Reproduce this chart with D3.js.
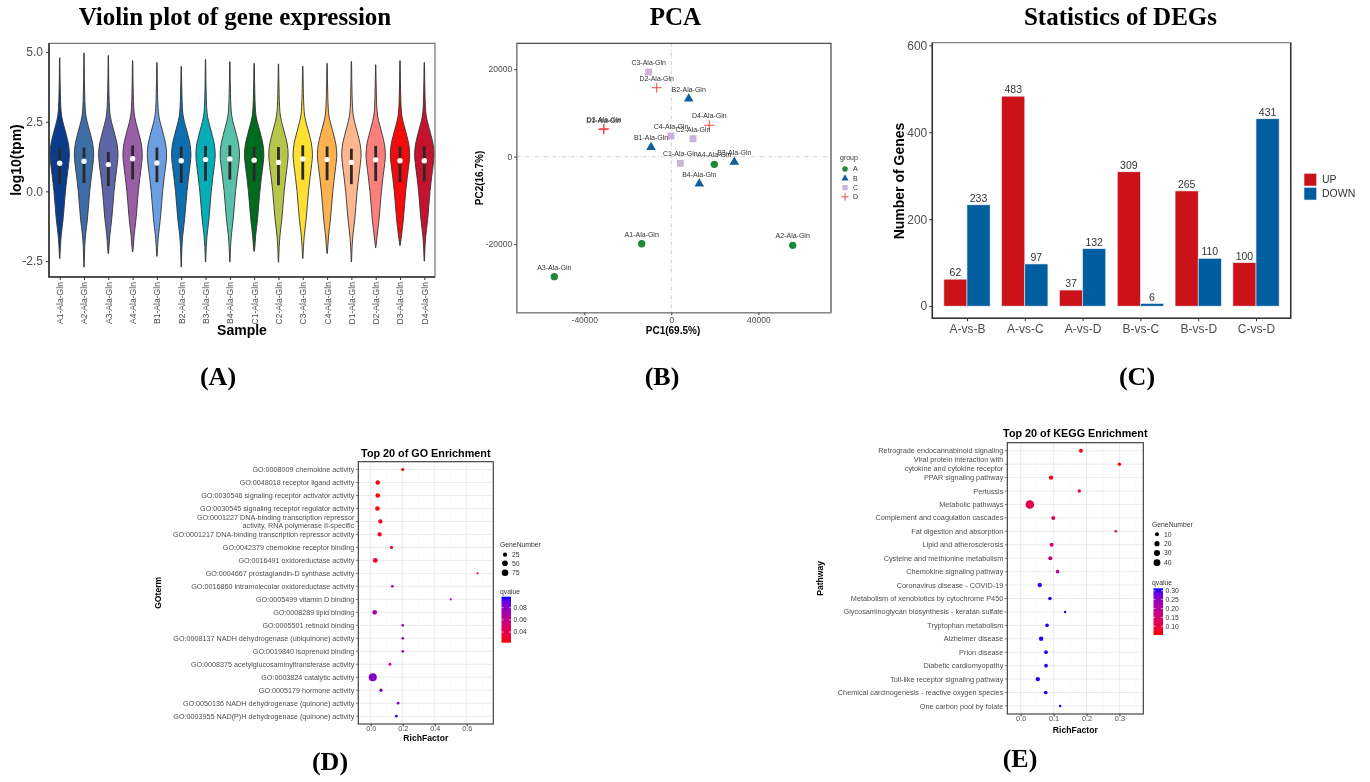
<!DOCTYPE html>
<html>
<head>
<meta charset="utf-8">
<script src="https://cdn.jsdelivr.net/npm/d3@7"></script>
<style>
	body { margin: 0; background: #fff; }
	svg { display: block; will-change: transform; }
	text { font-family: "Liberation Sans", Arial, sans-serif; -webkit-font-smoothing: antialiased; }
</style>
</head>
<body>
<div id="figure"></div>
<script>
//panel A: violin plot data
var samples = ["A1-Ala-Gln","A2-Ala-Gln","A3-Ala-Gln","A4-Ala-Gln","B1-Ala-Gln","B2-Ala-Gln","B3-Ala-Gln","B4-Ala-Gln",
			   "C1-Ala-Gln","C2-Ala-Gln","C3-Ala-Gln","C4-Ala-Gln","D1-Ala-Gln","D2-Ala-Gln","D3-Ala-Gln","D4-Ala-Gln"];
var sampleMin = [-2.41,-2.71,-2.23,-2.17,-2.33,-2.71,-2.53,-2.53,-2.15,-2.54,-2.41,-2.23,-2.53,-2.02,-1.94,-2.5];
var sampleMax = [4.79,4.96,4.87,4.69,4.62,4.48,4.73,4.65,4.59,4.57,4.49,4.59,4.66,4.54,4.69,4.62];
var sampleQ1 = [0.25,0.3,0.19,0.43,0.33,0.3,0.38,0.42,0.35,0.22,0.42,0.4,0.26,0.37,0.33,0.36];
var sampleMedian = [1.01,1.08,0.96,1.17,1.02,1.1,1.14,1.16,1.12,1.04,1.16,1.14,1.04,1.13,1.1,1.1];
var sampleQ3 = [1.57,1.57,1.41,1.65,1.57,1.61,1.63,1.65,1.59,1.59,1.65,1.61,1.53,1.63,1.61,1.62];
//shared density outline (log10 level, relative half width)
var densityLevels = [-2.5,-2.0,-1.6,-1.3,-1.0,-0.5,0.0,0.5,1.0,1.3,1.7,2.0,2.2,2.5,2.7,3.0,3.5,4.0,4.5];
var densityWidths = [0.03,0.07,0.15,0.25,0.35,0.47,0.59,0.75,0.93,1.0,0.9,0.7,0.55,0.32,0.2,0.12,0.07,0.04,0.025];
var violinTicks = [-2.5, 0, 2.5, 5];

//panel B: PCA data
var pcaSamples = samples.slice();
var pcaGroups = ["A","A","A","A","B","B","B","B","C","C","C","C","D","D","D","D"];
var pc1Values = [-13610,55820,-53790,19770,-9330,8000,28970,12870,4140,9980,-10390,-140,-31200,-6710,-30900,17470];
var pc2Values = [-19890,-20250,-27430,-1740,2150,13260,-1210,-6170,-1510,4110,19360,4730,6200,15770,6400,7180];
var pcaGroupNames = ["A","B","C","D"];
var pcaXTicks = [-40000, 0, 40000];
var pcaYTicks = [-20000, 0, 20000];

//panel C: DEG counts
var comparisons = ["A-vs-B","A-vs-C","A-vs-D","B-vs-C","B-vs-D","C-vs-D"];
var upCounts = [62,483,37,309,265,100];
var downCounts = [233,97,132,6,110,431];
var degTicks = [0, 200, 400, 600];

//panel D: GO enrichment
var goTerms = ["GO:0008009 chemokine activity",
			   "GO:0048018 receptor ligand activity",
			   "GO:0030546 signaling receptor activator activity",
			   "GO:0030545 signaling receptor regulator activity",
			   "GO:0001227 DNA-binding transcription repressor\nactivity, RNA polymerase II-specific",
			   "GO:0001217 DNA-binding transcription repressor activity",
			   "GO:0042379 chemokine receptor binding",
			   "GO:0016491 oxidoreductase activity",
			   "GO:0004667 prostaglandin-D synthase activity",
			   "GO:0016860 intramolecular oxidoreductase activity",
			   "GO:0005499 vitamin D binding",
			   "GO:0008289 lipid binding",
			   "GO:0005501 retinoid binding",
			   "GO:0008137 NADH dehydrogenase (ubiquinone) activity",
			   "GO:0019840 isoprenoid binding",
			   "GO:0008375 acetylglucosaminyltransferase activity",
			   "GO:0003824 catalytic activity",
			   "GO:0005179 hormone activity",
			   "GO:0050136 NADH dehydrogenase (quinone) activity",
			   "GO:0003955 NAD(P)H dehydrogenase (quinone) activity"];
var goRichFactor = [0.2,0.044,0.044,0.042,0.06,0.056,0.13,0.029,0.667,0.135,0.5,0.025,0.2,0.2,0.2,0.12,0.013,0.064,0.171,0.16];
var goGeneNumber = [10,28,28,29,24,24,9,34,2,7,2,30,6,6,6,7,120,11,6,6];
var goQvalue = [0.0225,0.024,0.024,0.024,0.026,0.026,0.028,0.034,0.052,0.066,0.068,0.072,0.07,0.07,0.07,0.066,0.082,0.08,0.085,0.096];
var goXTicks = [0, 0.2, 0.4, 0.6];
var goSizeLegend = [25, 50, 75];
var goQTicks = [0.04, 0.06, 0.08];

//panel E: KEGG enrichment
var keggPathways = ["Retrograde endocannabinoid signaling",
					"Viral protein interaction with\ncytokine and cytokine receptor",
					"PPAR signaling pathway",
					"Pertussis",
					"Metabolic pathways",
					"Complement and coagulation cascades",
					"Fat digestion and absorption",
					"Lipid and atherosclerosis",
					"Cysteine and methionine metabolism",
					"Chemokine signaling pathway",
					"Coronavirus disease - COVID-19",
					"Metabolism of xenobiotics by cytochrome P450",
					"Glycosaminoglycan biosynthesis - keratan sulfate",
					"Tryptophan metabolism",
					"Alzheimer disease",
					"Prion disease",
					"Diabetic cardiomyopathy",
					"Toll-like receptor signaling pathway",
					"Chemical carcinogenesis - reactive oxygen species",
					"One carbon pool by folate"];
var keggRichFactor = [0.183,0.3,0.092,0.178,0.028,0.099,0.289,0.094,0.09,0.112,0.058,0.089,0.135,0.08,0.062,0.077,0.077,0.052,0.076,0.12];
var keggGeneNumber = [10,6,13,6,70,10,2,10,10,7,13,7,2,8,13,8,8,13,8,2];
var keggQvalue = [0.052,0.051,0.075,0.08,0.11,0.13,0.13,0.15,0.15,0.19,0.3,0.31,0.31,0.31,0.31,0.31,0.31,0.31,0.31,0.3135];
var keggXTicks = [0, 0.1, 0.2, 0.3];
var keggSizeLegend = [10, 20, 30, 40];
var keggQTicks = [0.10, 0.15, 0.20, 0.25, 0.30];

var violinPalette = ["#0B3C8C","#3E6EA8","#5F66A8","#9A5EA6","#6A9EE0","#0E6FB0","#06ADB6","#58C1A8",
					 "#006B1F","#B7C64A","#FDE032","#FCB24E","#FDB68D","#FB7F7A","#F40B0B","#C4122F"];
var groupColors = {A: "#1B8A36", B: "#0F5EA0", C: "#C9B4D8", D: "#EF4A4C"};
var serif = "'Liberation Serif','Times New Roman',serif";

function init(){
	var svg = d3.select("#figure").append("svg")
				.attr("width", 1370)
				.attr("height", 782)
				.style("background", "#fff");

	violinPlot(svg);
	pcaPlot(svg);
	degPlot(svg);

	enrichmentPlot(svg, {
		title: "Top 20 of GO Enrichment", yTitle: "GOterm", yTitleX: 161,
		terms: goTerms, rich: goRichFactor, genes: goGeneNumber, q: goQvalue,
		left: 358.3, right: 493.3, top: 461.7, bottom: 724,
		xDomain: [-0.0775, 0.766], xTicks: goXTicks, xFormat: d3.format(".1f"),
		sizeMax: 125, rMax: 4.1, sizeLegend: goSizeLegend,
		qDomain: [0.0225, 0.098], qTicks: goQTicks, qFormat: d3.format(".2f"),
		fontSize: 7.2, lineGap: 8, titleY: 456.5, tickY: 730.5, xTitleY: 741,
		legendX: 500, sizeTitleY: 547, sizeItemY: [554.7, 563.3, 572.7],
		qTitleY: 594, barTop: 596.7, barBottom: 642.7
	});

	enrichmentPlot(svg, {
		title: "Top 20 of KEGG Enrichment", yTitle: "Pathway", yTitleX: 823,
		terms: keggPathways, rich: keggRichFactor, genes: keggGeneNumber, q: keggQvalue,
		left: 1007.3, right: 1143.3, top: 442.7, bottom: 714,
		xDomain: [-0.0407, 0.3726], xTicks: keggXTicks, xFormat: d3.format(".1f"),
		sizeMax: 70, rMax: 4.3, sizeLegend: keggSizeLegend,
		qDomain: [0.051, 0.3135], qTicks: keggQTicks, qFormat: d3.format(".2f"),
		fontSize: 7.3, lineGap: 8.6, titleY: 437, tickY: 720.5, xTitleY: 732.5,
		legendX: 1152, sizeTitleY: 527, sizeItemY: [534.3, 543.7, 553, 562.7],
		qTitleY: 585, barTop: 588.3, barBottom: 635
	});

	//panel letters
	var letters = [["(A)", 218, 385], ["(B)", 662, 385], ["(C)", 1137, 385], ["(D)", 330, 770], ["(E)", 1020, 767]];
	svg.selectAll("text.letter").data(letters).enter()
		.append("text")
		.attr("class", "letter")
		.attr("x", d => d[1])
		.attr("y", d => d[2])
		.attr("text-anchor", "middle")
		.style("font-family", serif)
		.style("font-weight", "bold")
		.style("font-size", "26px")
		.attr("fill", "#000")
		.text(d => d[0]);
}

//style the ticks of a d3 axis like the ggplot output
function styleAxis(g, size){
	g.select(".domain").remove();
	g.selectAll(".tick line").attr("stroke", "#333");
	g.selectAll(".tick text")
	 .attr("fill", "#4d4d4d")
	 .style("font-family", "'Liberation Sans', Arial, sans-serif")
	 .style("font-size", size + "px");
}

function violinPlot(svg){
	var left = 49, right = 435, top = 43.3, bottom = 277;
	var halfWidth = 9.7;

	var x = d3.scalePoint().domain(samples).range([left, right]).padding(0.44);
	var y = d3.scaleLinear().domain([-3.07, 5.31]).range([bottom, top]);

	svg.append("text")
		.attr("x", 235)
		.attr("y", 25)
		.attr("text-anchor", "middle")
		.style("font-family", serif)
		.style("font-weight", "bold")
		.style("font-size", "25px")
		.text("Violin plot of gene expression");

	var area = d3.area()
				 .curve(d3.curveMonotoneY)
				 .y(d => y(d.level))
				 .x0(d => d.cx - d.w * halfWidth)
				 .x1(d => d.cx + d.w * halfWidth);

	var g = svg.append("g");
	samples.forEach(function(s, i){
		var cx = x(s);
		var pts = [{level: sampleMin[i], w: 0.015, cx: cx}];
		densityLevels.forEach(function(lv, j){
			if (lv > sampleMin[i] + 0.08 && lv < sampleMax[i] - 0.08) {
				pts.push({level: lv, w: densityWidths[j], cx: cx});
			}
		});
		pts.push({level: sampleMax[i], w: 0.015, cx: cx});

		g.append("path")
		 .attr("d", area(pts))
		 .attr("fill", violinPalette[i])
		 .attr("stroke", "#333")
		 .attr("stroke-width", 0.9);

		//inner box
		g.append("rect")
		 .attr("x", cx - 1.4)
		 .attr("width", 2.8)
		 .attr("y", y(sampleQ3[i]))
		 .attr("height", y(sampleQ1[i]) - y(sampleQ3[i]))
		 .attr("fill", "#2a2a2a");

		g.append("circle")
		 .attr("cx", cx)
		 .attr("cy", y(sampleMedian[i]))
		 .attr("r", 2.7)
		 .attr("fill", "#fff");
	});

	//frame
	svg.append("rect")
		.attr("x", left).attr("y", top)
		.attr("width", right - left).attr("height", bottom - top)
		.attr("fill", "none").attr("stroke", "#555").attr("stroke-width", 1);
	svg.append("path")
		.attr("d", "M" + left + "," + top + "V" + bottom + "H" + right)
		.attr("fill", "none").attr("stroke", "#333").attr("stroke-width", 1.6);

	var yAxis = svg.append("g")
				   .attr("transform", "translate(" + left + ",0)")
				   .call(d3.axisLeft(y).tickValues(violinTicks).tickSize(3).tickPadding(3).tickFormat(d => d.toFixed(1)));
	styleAxis(yAxis, 12);

	var xAxis = svg.append("g")
				   .attr("transform", "translate(0," + bottom + ")")
				   .call(d3.axisBottom(x).tickSize(3));
	styleAxis(xAxis, 8.6);
	xAxis.selectAll(".tick text")
		 .attr("transform", "rotate(-90)")
		 .attr("x", -5)
		 .attr("y", 0)
		 .attr("dy", "0.34em")
		 .style("text-anchor", "end");

	svg.append("text")
		.attr("transform", "translate(21,160) rotate(-90)")
		.attr("text-anchor", "middle")
		.style("font-weight", "bold")
		.style("font-size", "14px")
		.text("log10(tpm)");

	svg.append("text")
		.attr("x", 242)
		.attr("y", 335)
		.attr("text-anchor", "middle")
		.style("font-weight", "bold")
		.style("font-size", "14px")
		.text("Sample");
}

function pcaPlot(svg){
	var left = 516.7, right = 831, top = 43.3, bottom = 312.7;

	var x = d3.scaleLinear().domain([-71080, 73425]).range([left, right]);
	var y = d3.scaleLinear().domain([-35657, 25920]).range([bottom, top]);

	svg.append("text")
		.attr("x", 675.5)
		.attr("y", 25)
		.attr("text-anchor", "middle")
		.style("font-family", serif)
		.style("font-weight", "bold")
		.style("font-size", "25px")
		.text("PCA");

	//zero reference lines
	svg.append("line")
		.attr("x1", x(0)).attr("x2", x(0)).attr("y1", top).attr("y2", bottom)
		.attr("stroke", "#c4c4c4").attr("stroke-width", 0.8).attr("stroke-dasharray", "4,2,1,2");
	svg.append("line")
		.attr("x1", left).attr("x2", right).attr("y1", y(0)).attr("y2", y(0))
		.attr("stroke", "#c4c4c4").attr("stroke-width", 0.8).attr("stroke-dasharray", "4,2,1,2");

	var points = pcaSamples.map(function(s, i){
		return {name: s, group: pcaGroups[i], pc1: pc1Values[i], pc2: pc2Values[i]};
	});

	svg.selectAll("path.pca").data(points).enter()
		.append("path")
		.attr("class", "pca")
		.attr("transform", d => "translate(" + x(d.pc1) + "," + y(d.pc2) + ")")
		.attr("d", d => groupSymbol(d.group))
		.attr("fill", d => d.group == "D" ? "none" : groupColors[d.group])
		.attr("stroke", d => d.group == "D" ? groupColors[d.group] : "none")
		.attr("stroke-width", 1);

	svg.selectAll("text.pca").data(points).enter()
		.append("text")
		.attr("class", "pca")
		.attr("x", d => x(d.pc1))
		.attr("y", d => y(d.pc2) - 7)
		.attr("text-anchor", "middle")
		.attr("fill", "#333")
		.style("font-size", "7px")
		.text(d => d.name);

	svg.append("rect")
		.attr("x", left).attr("y", top)
		.attr("width", right - left).attr("height", bottom - top)
		.attr("fill", "none").attr("stroke", "#333").attr("stroke-width", 1.1);
	svg.append("path")
		.attr("d", "M" + left + "," + top + "V" + bottom + "H" + right)
		.attr("fill", "none").attr("stroke", "#888").attr("stroke-width", 1.2);

	var xAxis = svg.append("g")
				   .attr("transform", "translate(0," + bottom + ")")
				   .call(d3.axisBottom(x).tickValues(pcaXTicks).tickSize(2.5).tickPadding(2).tickFormat(d => d.toString()));
	styleAxis(xAxis, 8.5);
	var yAxis = svg.append("g")
				   .attr("transform", "translate(" + left + ",0)")
				   .call(d3.axisLeft(y).tickValues(pcaYTicks).tickSize(2.5).tickPadding(2).tickFormat(d => d.toString()));
	styleAxis(yAxis, 8.5);

	svg.append("text")
		.attr("x", 673)
		.attr("y", 333.5)
		.attr("text-anchor", "middle")
		.style("font-weight", "bold")
		.style("font-size", "10px")
		.text("PC1(69.5%)");
	svg.append("text")
		.attr("transform", "translate(483,178) rotate(-90)")
		.attr("text-anchor", "middle")
		.style("font-weight", "bold")
		.style("font-size", "10px")
		.text("PC2(16.7%)");

	//group legend
	var legend = svg.append("g");
	legend.append("text")
		  .attr("x", 840).attr("y", 160)
		  .attr("fill", "#333")
		  .style("font-size", "7px")
		  .text("group");
	var items = legend.selectAll("g").data(pcaGroupNames).enter()
					  .append("g")
					  .attr("transform", (d, i) => "translate(845," + (169 + i * 9.3) + ")");
	items.append("path")
		 .attr("d", d => groupSymbol(d, 0.75))
		 .attr("fill", d => d == "D" ? "none" : groupColors[d])
		 .attr("stroke", d => d == "D" ? groupColors[d] : "none");
	items.append("text")
		 .attr("x", 8).attr("dy", "0.35em")
		 .attr("fill", "#333")
		 .style("font-size", "7px")
		 .text(d => d);
}

//symbols for the PCA groups
function groupSymbol(group, scale){
	var k = scale || 1;
	if (group == "A") return d3.symbol().type(d3.symbolCircle).size(42 * k * k)();
	if (group == "B") return d3.symbol().type(d3.symbolTriangle).size(40 * k * k)();
	if (group == "C") return d3.symbol().type(d3.symbolSquare).size(48 * k * k)();
	var h = 5 * k;
	return "M" + (-h) + ",0H" + h + "M0," + (-h) + "V" + h;
}

function degPlot(svg){
	var left = 932.3, right = 1290.7, top = 42.7, bottom = 318.3;

	var x = d3.scalePoint().domain(comparisons).range([left, right]).padding(0.6);
	var barWidth = x.step() * 0.4;
	var y = d3.scaleLinear().domain([-28, 606]).range([bottom, top]);

	svg.append("text")
		.attr("x", 1120.5)
		.attr("y", 25)
		.attr("text-anchor", "middle")
		.style("font-family", serif)
		.style("font-weight", "bold")
		.style("font-size", "25px")
		.text("Statistics of DEGs");

	var bars = [];
	comparisons.forEach(function(c, i){
		bars.push({comp: c, type: "UP", value: upCounts[i], offset: -barWidth});
		bars.push({comp: c, type: "DOWN", value: downCounts[i], offset: 0});
	});
	var colour = {UP: "#CB1219", DOWN: "#005DA0"};

	svg.selectAll("rect.deg").data(bars).enter()
		.append("rect")
		.attr("class", "deg")
		.attr("x", d => x(d.comp) + d.offset)
		.attr("width", barWidth)
		.attr("y", d => y(d.value))
		.attr("height", d => y(0) - y(d.value))
		.attr("fill", d => colour[d.type])
		.attr("stroke", "#e8eef6")
		.attr("stroke-width", 0.6);

	svg.selectAll("text.deg").data(bars).enter()
		.append("text")
		.attr("class", "deg")
		.attr("x", d => x(d.comp) + d.offset + barWidth / 2)
		.attr("y", d => y(d.value) - 3)
		.attr("text-anchor", "middle")
		.attr("fill", "#333")
		.style("font-size", "10.5px")
		.text(d => d.value);

	svg.append("rect")
		.attr("x", left).attr("y", top)
		.attr("width", right - left).attr("height", bottom - top)
		.attr("fill", "none").attr("stroke", "#666").attr("stroke-width", 1);
	svg.append("path")
		.attr("d", "M" + left + "," + top + "V" + bottom + "H" + right + "V" + top)
		.attr("fill", "none").attr("stroke", "#333").attr("stroke-width", 1.5);

	var yAxis = svg.append("g")
				   .attr("transform", "translate(" + left + ",0)")
				   .call(d3.axisLeft(y).tickValues(degTicks).tickSize(3).tickPadding(2));
	styleAxis(yAxis, 12);
	var xAxis = svg.append("g")
				   .attr("transform", "translate(0," + bottom + ")")
				   .call(d3.axisBottom(x).tickSize(3).tickPadding(3));
	styleAxis(xAxis, 12);

	svg.append("text")
		.attr("transform", "translate(904,181) rotate(-90)")
		.attr("text-anchor", "middle")
		.style("font-weight", "bold")
		.style("font-size", "14px")
		.text("Number of Genes");

	//legend
	var legend = svg.selectAll("g.deglegend").data(["UP", "DOWN"]).enter()
					.append("g")
					.attr("class", "deglegend")
					.attr("transform", (d, i) => "translate(1304," + (173.3 + i * 14) + ")");
	legend.append("rect")
		  .attr("width", 12.7).attr("height", 12.7)
		  .attr("fill", d => colour[d])
		  .attr("stroke", "#e8eef6").attr("stroke-width", 0.6);
	legend.append("text")
		  .attr("x", 18).attr("y", 6.5).attr("dy", "0.35em")
		  .attr("fill", "#333")
		  .style("font-size", "10.5px")
		  .text(d => d);
}

function enrichmentPlot(svg, opt){
	var x = d3.scaleLinear().domain(opt.xDomain).range([opt.left, opt.right]);
	var y = d3.scalePoint().domain(opt.terms).range([opt.top, opt.bottom]).padding(0.6);
	var size = d3.scaleSqrt().domain([0, opt.sizeMax]).range([0.6, opt.rMax]);
	var color = d3.scaleLinear().domain(opt.qDomain).range(["#FF0000", "#0000FF"]).interpolate(d3.interpolateLab);

	var g = svg.append("g");

	//grid lines
	var step = opt.xTicks[1] - opt.xTicks[0];
	var minor = opt.xTicks.map(d => d + step / 2).concat([opt.xTicks[0] - step / 2])
						  .filter(d => x(d) > opt.left && x(d) < opt.right);
	g.selectAll("line.minor").data(minor).enter()
	 .append("line")
	 .attr("x1", d => x(d)).attr("x2", d => x(d))
	 .attr("y1", opt.top).attr("y2", opt.bottom)
	 .attr("stroke", "#f4f4f4").attr("stroke-width", 0.5);
	g.selectAll("line.vmajor").data(opt.xTicks).enter()
	 .append("line")
	 .attr("x1", d => x(d)).attr("x2", d => x(d))
	 .attr("y1", opt.top).attr("y2", opt.bottom)
	 .attr("stroke", "#e9e9e9").attr("stroke-width", 0.9);
	g.selectAll("line.hmajor").data(opt.terms).enter()
	 .append("line")
	 .attr("x1", opt.left).attr("x2", opt.right)
	 .attr("y1", d => y(d)).attr("y2", d => y(d))
	 .attr("stroke", "#e9e9e9").attr("stroke-width", 0.9);

	var points = opt.terms.map(function(t, i){
		return {term: t, rich: opt.rich[i], genes: opt.genes[i], q: opt.q[i]};
	});

	g.selectAll("circle.dot").data(points).enter()
	 .append("circle")
	 .attr("class", "dot")
	 .attr("cx", d => x(d.rich))
	 .attr("cy", d => y(d.term))
	 .attr("r", d => size(d.genes))
	 .attr("fill", d => color(d.q));

	g.append("rect")
	 .attr("x", opt.left).attr("y", opt.top)
	 .attr("width", opt.right - opt.left).attr("height", opt.bottom - opt.top)
	 .attr("fill", "none").attr("stroke", "#333").attr("stroke-width", 1.1);

	//y labels, possibly on two lines
	var fs = opt.fontSize;
	var labels = g.selectAll("g.term").data(opt.terms).enter()
				  .append("g")
				  .attr("class", "term")
				  .attr("transform", d => "translate(0," + y(d) + ")");
	labels.append("line")
		  .attr("x1", opt.left - 2.5).attr("x2", opt.left)
		  .attr("stroke", "#333").attr("stroke-width", 0.6);
	labels.append("text")
		  .attr("text-anchor", "end")
		  .attr("fill", "#4d4d4d")
		  .style("font-size", fs + "px")
		  .each(function(d){
			  var lines = d.split("\n");
			  var t = d3.select(this);
			  lines.forEach(function(line, k){
				  t.append("tspan")
				   .attr("x", opt.left - 4)
				   .attr("y", 0.35 * fs + (k - (lines.length - 1) / 2) * opt.lineGap)
				   .text(line);
			  });
		  });

	var xAxis = g.append("g")
				 .attr("transform", "translate(0," + opt.bottom + ")")
				 .call(d3.axisBottom(x).tickValues(opt.xTicks).tickSize(2.5).tickPadding(2).tickFormat(opt.xFormat));
	styleAxis(xAxis, fs);
	xAxis.selectAll(".tick text").attr("y", opt.tickY - opt.bottom).attr("dy", 0);

	g.append("text")
	 .attr("x", (opt.left + opt.right) / 2)
	 .attr("y", opt.xTitleY)
	 .attr("text-anchor", "middle")
	 .style("font-weight", "bold")
	 .style("font-size", "8.6px")
	 .text("RichFactor");

	g.append("text")
	 .attr("transform", "translate(" + opt.yTitleX + "," + (opt.top + opt.bottom) / 2 + ") rotate(-90)")
	 .attr("text-anchor", "middle")
	 .style("font-weight", "bold")
	 .style("font-size", "8.6px")
	 .text(opt.yTitle);

	g.append("text")
	 .attr("x", (opt.left + opt.right) / 2)
	 .attr("y", opt.titleY)
	 .attr("text-anchor", "middle")
	 .style("font-weight", "bold")
	 .style("font-size", "10.8px")
	 .text(opt.title);

	//size legend
	g.append("text")
	 .attr("x", opt.legendX).attr("y", opt.sizeTitleY)
	 .attr("fill", "#333")
	 .style("font-size", "6.8px")
	 .text("GeneNumber");
	var sizeItems = g.selectAll("g.sizeitem").data(opt.sizeLegend).enter()
					 .append("g")
					 .attr("class", "sizeitem")
					 .attr("transform", (d, i) => "translate(" + (opt.legendX + 5) + "," + opt.sizeItemY[i] + ")");
	sizeItems.append("circle")
			 .attr("r", d => size(d))
			 .attr("fill", "#000");
	sizeItems.append("text")
			 .attr("x", 7).attr("dy", "0.35em")
			 .attr("fill", "#333")
			 .style("font-size", "6.8px")
			 .text(d => d);

	//qvalue colour bar
	var gradId = "grad-" + opt.yTitle;
	var grad = svg.append("defs").append("linearGradient")
				  .attr("id", gradId)
				  .attr("x1", 0).attr("y1", 1).attr("x2", 0).attr("y2", 0);
	d3.range(0, 1.0001, 0.1).forEach(function(t){
		grad.append("stop")
			.attr("offset", t)
			.attr("stop-color", color(opt.qDomain[0] + t * (opt.qDomain[1] - opt.qDomain[0])));
	});
	g.append("text")
	 .attr("x", opt.legendX).attr("y", opt.qTitleY)
	 .attr("fill", "#333")
	 .style("font-size", "6.8px")
	 .text("qvalue");
	var barX = opt.legendX + 1.5, barW = 9.5;
	g.append("rect")
	 .attr("x", barX).attr("y", opt.barTop)
	 .attr("width", barW).attr("height", opt.barBottom - opt.barTop)
	 .attr("fill", "url(#" + gradId + ")");
	var qy = d3.scaleLinear().domain(opt.qDomain).range([opt.barBottom, opt.barTop]);
	var qTicks = g.selectAll("g.qtick").data(opt.qTicks).enter()
				  .append("g")
				  .attr("class", "qtick")
				  .attr("transform", d => "translate(0," + qy(d) + ")");
	qTicks.append("line").attr("x1", barX).attr("x2", barX + 2).attr("stroke", "#fff").attr("stroke-width", 0.6);
	qTicks.append("line").attr("x1", barX + barW - 2).attr("x2", barX + barW).attr("stroke", "#fff").attr("stroke-width", 0.6);
	qTicks.append("text")
		  .attr("x", barX + barW + 2.5).attr("dy", "0.35em")
		  .attr("fill", "#333")
		  .style("font-size", "6.8px")
		  .text(d => opt.qFormat(d));
}

window.onload = init;
</script>
</body>
</html>
